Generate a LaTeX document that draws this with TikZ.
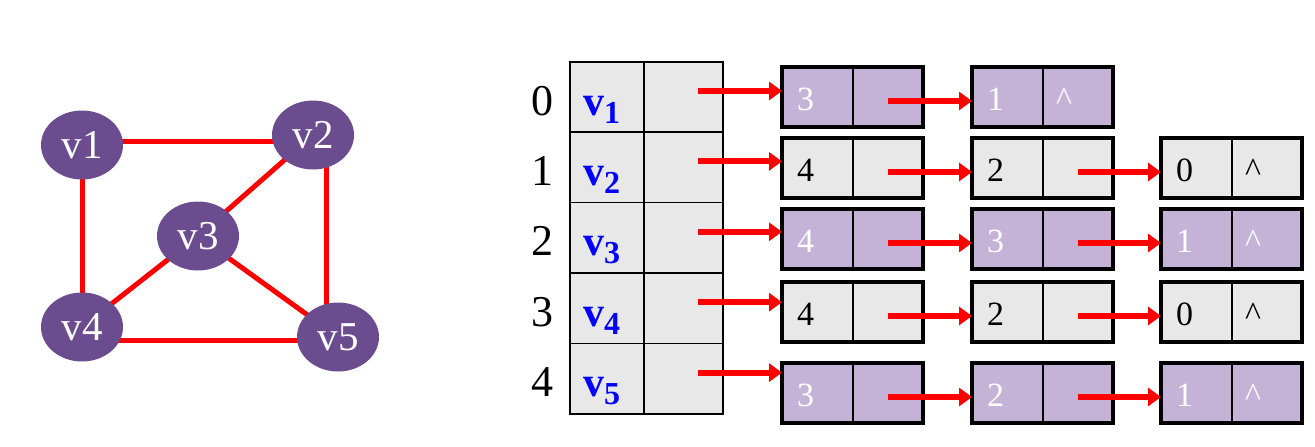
\documentclass[tikz,border=0pt]{standalone}
\usepackage{fontspec}
\setmainfont{Liberation Serif}
\newfontfamily\tms{Liberation Serif}
\usetikzlibrary{arrows.meta,shapes.geometric,calc}
\definecolor{gnode}{RGB}{107,76,142}
\definecolor{lpurple}{RGB}{196,179,215}
\definecolor{lgray}{RGB}{232,232,232}
\definecolor{vblue}{RGB}{0,0,255}
\begin{document}
\begin{tikzpicture}[x=1pt,y=-1pt,
  gv/.style={ellipse,fill=gnode,text=white,minimum width=82pt,minimum height=69pt,inner sep=0pt,font=\tms\fontsize{41}{41}\selectfont},
  edge/.style={red,line width=5pt},
  tcell/.style={draw=black,line width=1.5pt,fill=lgray,minimum height=70.4pt,inner sep=0pt,anchor=north west},
  idx/.style={font=\tms\fontsize{44}{44}\selectfont,inner sep=0pt,anchor=base},
  vlab/.style={font=\tms\fontsize{42}{42}\selectfont\bfseries,text=vblue,inner sep=0pt,anchor=base west},
  lcell/.style={draw=black,line width=1.5pt,fill=#1,minimum height=58pt,inner sep=0pt,anchor=north west},
  outer/.style={draw=black,line width=4pt},
  ltext/.style={font=\tms\fontsize{34}{34}\selectfont,inner sep=0pt,anchor=base west,text=#1},
  ptr/.style={red,line width=6pt,-{Triangle[length=13pt,width=18pt]}}
]
\useasboundingbox (0,0) rectangle (1315,447);
% ---------- graph: edges first, nodes on top ----------
\path (82,145) coordinate (c1) (313,135) coordinate (c2) (198,236) coordinate (c3)
      (82,327) coordinate (c4) (338,337) coordinate (c5);
\draw[edge] ([yshift=4pt]c1) -- ([yshift=4pt]c1 -| c2);
\draw[edge] ([xshift=13pt]c2) -- ([xshift=13pt]c2 |- c5);
\draw[edge] (c1) -- (c4);
\draw[edge] ([yshift=-13pt]c4) -- ([yshift=-13pt]c4 -| c5);
\draw[edge] (c2) -- (c3);
\draw[edge] (c3) -- (c4);
\draw[edge] (c3) -- (c5);
\node[gv] (v1) at (c1) {v1};
\node[gv] (v2) at (c2) {v2};
\node[gv] (v3) at (c3) {v3};
\node[gv] (v4) at (c4) {v4};
\node[gv] (v5) at (c5) {v5};
% ---------- table ----------
\foreach \i/\n in {0/1,1/2,2/3,3/4,4/5}{
  \pgfmathsetmacro{\top}{61+70.4*\i}
  \node[tcell,minimum width=74pt] (d\i) at (569,\top) {};
  \node[tcell,minimum width=79pt] (p\i) at (643,\top) {};
  \node[idx] (i\i) at (542,\top+54) {\i};
  \node[vlab] (l\i) at (583,\top+54) {v\raisebox{-8pt}{\fontsize{32}{32}\selectfont\bfseries\n}};
  \coordinate (s\i) at ($(p\i.north west)+(55,30)$);
}
% ---------- list nodes ----------
\foreach \r/\c/\x/\top/\fc/\tc/\v in {
  0/1/782/67/lpurple/white/3, 0/2/972/67/lpurple/white/1,
  1/1/782/138/lgray/black/4, 1/2/972/138/lgray/black/2, 1/3/1161/138/lgray/black/0,
  2/1/782/209/lpurple/white/4, 2/2/972/209/lpurple/white/3, 2/3/1161/209/lpurple/white/1,
  3/1/782/282/lgray/black/4, 3/2/972/282/lgray/black/2, 3/3/1161/282/lgray/black/0,
  4/1/782/363/lpurple/white/3, 4/2/972/363/lpurple/white/2, 4/3/1161/363/lpurple/white/1}{
  \node[lcell=\fc,minimum width=70pt] (a\r\c) at (\x,\top) {};
  \node[lcell=\fc,minimum width=69pt] (b\r\c) at (\x+70,\top) {};
  \draw[outer] (a\r\c.north west) rectangle (b\r\c.south east);
  \node[ltext=\tc] (t\r\c) at ($(a\r\c.north west)+(15,43)$) {\v};
}
% null markers
\node[ltext=white] (n0) at ($(b02.north west)+(14,43)$) {\textasciicircum};
\node[ltext=black] (n1) at ($(b13.north west)+(14,43)$) {\textasciicircum};
\node[ltext=white] (n2) at ($(b23.north west)+(14,43)$) {\textasciicircum};
\node[ltext=black] (n3) at ($(b33.north west)+(14,43)$) {\textasciicircum};
\node[ltext=white] (n4) at ($(b43.north west)+(14,43)$) {\textasciicircum};
% head pointers
\foreach \i in {0,...,4}{
  \draw[ptr] (s\i) -- (s\i -| a\i1.west);
}
% next pointers
\foreach \r/\c/\d in {0/1/2,1/1/2,1/2/3,2/1/2,2/2/3,3/1/2,3/2/3,4/1/2,4/2/3}{
  \coordinate (q\r\c) at ($(b\r\c.north)+(1,34)$);
  \draw[ptr] (q\r\c) -- (q\r\c -| a\r\d.west);
}
\end{tikzpicture}
\end{document}
